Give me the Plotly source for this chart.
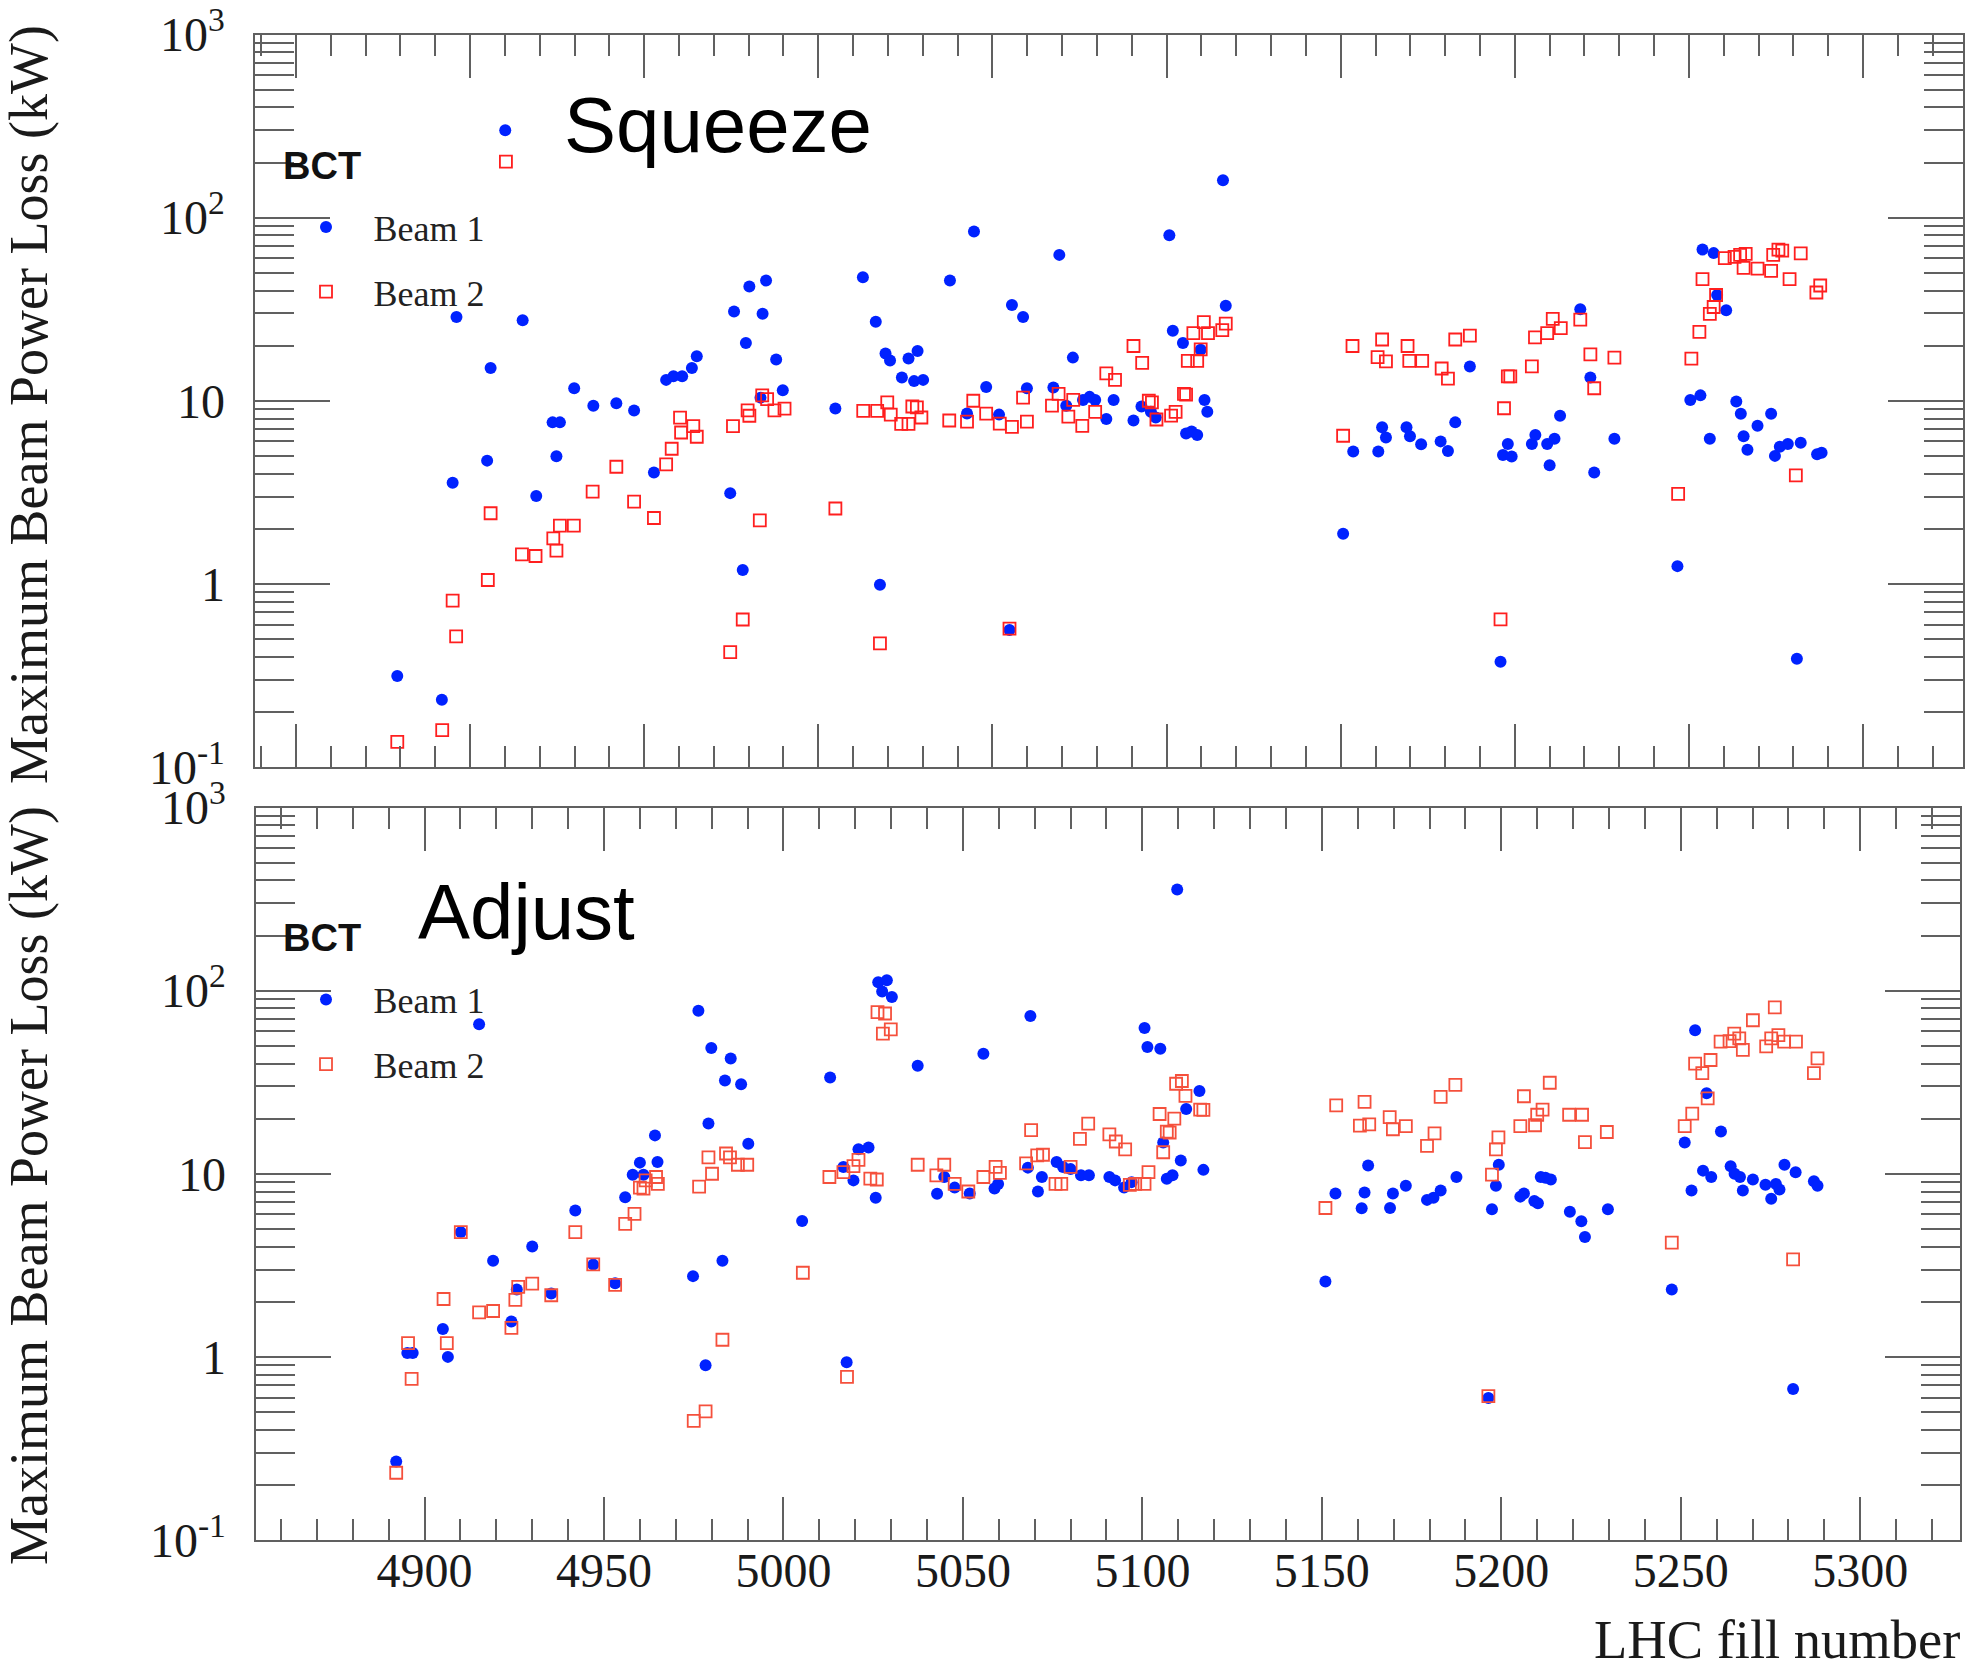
import plotly.graph_objects as go

# ---------------- data ----------------
# Top panel: "Squeeze"
squeeze_b1_fill = [4879.1, 4891.9, 4895.0, 4896.1, 4904.9, 4905.9, 4910.1, 4915.1, 4919.0, 4923.7,
                   4925.8, 4924.8, 4929.9, 4935.4, 4942.0, 4947.1, 4952.8, 4956.3, 4958.4, 4960.9,
                   4963.7, 4965.1, 4974.7, 4975.8, 4979.2, 4978.3, 4980.2, 4985.0, 4984.0, 4983.4,
                   4987.9, 4989.8,
                   5004.9, 5012.8, 5016.5, 5017.7, 5019.3, 5020.6, 5024.0, 5025.9, 5027.5, 5028.5,
                   5030.1, 5037.8, 5042.7, 5044.7, 5048.2, 5051.9, 5054.9, 5055.6, 5058.8, 5059.9,
                   5067.5, 5069.2, 5071.2, 5073.1, 5076.0, 5077.9, 5079.5, 5082.7, 5084.8, 5090.5,
                   5092.8, 5095.5, 5096.9, 5100.8, 5101.8, 5104.7, 5105.6, 5107.2, 5108.8, 5109.8,
                   5110.9, 5111.7, 5116.2, 5117.0, 5150.7, 5153.6, 5160.8, 5161.9, 5163.0,
                   5168.9, 5169.9, 5173.1, 5178.7, 5180.8, 5182.9, 5187.1, 5195.9, 5196.6, 5198.0,
                   5199.1, 5204.9, 5205.9, 5209.3, 5210.0, 5211.4, 5213.0, 5218.8, 5221.7, 5222.8,
                   5228.6, 5246.7, 5250.4, 5253.3, 5253.9, 5257.1, 5258.1, 5260.7, 5256.0, 5263.6,
                   5264.9, 5265.7, 5266.8, 5269.7, 5273.6, 5274.7, 5276.1, 5278.4, 5281.0, 5282.1,
                   5286.8, 5288.1]
squeeze_b1_loss = [0.314, 0.233, 3.57, 28.7, 4.71, 15.1, 300, 27.5, 3.02, 7.62,
                   7.62, 4.97, 11.7, 9.4, 9.68, 8.85, 4.06, 13.0, 13.6, 13.6,
                   15.1, 17.5, 3.13, 30.7, 20.7, 1.19, 42.1, 45.3, 29.9, 10.4,
                   16.8, 11.4,
                   9.06, 47.2, 27.0, 0.99, 18.1, 16.6, 13.4, 17.0, 12.8, 18.7,
                   13.0, 45.3, 8.53, 84.0, 11.9, 8.4, 0.56, 33.3, 28.7, 11.7,
                   11.8, 62.6, 9.4, 17.2, 10.1, 10.5, 10.1, 7.94, 10.1, 7.8,
                   9.3, 8.7, 8.1, 80.1, 24.1, 20.7, 6.63, 6.8, 6.5, 19.0,
                   10.1, 8.7, 160, 33.0, 1.88, 5.28, 5.28, 7.17, 6.3,
                   7.17, 6.4, 5.78, 6.0, 5.31, 7.62, 15.4, 0.376, 5.06, 5.8,
                   4.96, 5.8, 6.5, 5.8, 4.44, 6.2, 8.28, 31.6, 13.4, 4.06,
                   6.2, 1.25, 10.1, 10.7, 66.9, 64.0, 37.8, 31.2, 6.2, 9.9,
                   8.5, 6.4, 5.4, 7.3, 8.5, 5.0, 5.6, 5.8, 0.39, 5.9,
                   5.1, 5.2]

squeeze_b2_fill = [4879.1, 4892.0, 4895.0, 4896.0, 4905.1, 4905.9, 4910.3, 4914.9, 4918.8, 4923.9,
                   4924.8, 4925.8, 4929.8, 4935.2, 4942.0, 4947.1, 4952.8, 4956.3, 4957.9, 4960.3,
                   4960.6, 4964.1, 4965.1, 4974.7, 4975.5, 4978.3, 4979.7, 4980.2, 4983.2, 4983.9,
                   4985.3, 4987.4, 4990.3,
                   5004.9, 5012.9, 5016.9, 5017.7, 5019.8, 5020.8, 5023.8, 5025.9, 5027.0, 5028.3,
                   5029.6, 5037.6, 5042.7, 5044.5, 5048.2, 5052.1, 5054.9, 5055.6, 5058.8, 5059.9,
                   5067.1, 5069.0, 5071.8, 5073.2, 5075.8, 5079.5, 5082.7, 5085.2, 5090.5, 5093.0,
                   5094.9, 5095.8, 5097.1, 5101.3, 5102.6, 5105.0, 5105.6, 5106.1, 5107.7, 5108.8,
                   5109.8, 5110.7, 5111.9, 5116.0, 5117.0, 5150.7, 5153.4, 5160.6, 5161.9, 5163.0,
                   5169.2, 5169.7, 5173.4, 5179.0, 5180.8, 5182.9, 5187.1, 5195.9, 5196.9, 5198.0,
                   5198.7, 5204.9, 5205.8, 5209.3, 5210.9, 5213.2, 5218.8, 5221.7, 5222.8, 5228.6,
                   5246.9, 5250.7, 5253.0, 5253.9, 5256.0, 5257.1, 5257.8, 5260.3, 5263.1, 5264.7,
                   5266.3, 5265.7, 5269.7, 5273.6, 5274.2, 5275.7, 5276.8, 5278.9, 5280.7, 5282.1,
                   5286.6, 5287.7]
squeeze_b2_loss = [0.137, 0.159, 0.811, 0.517, 1.05, 2.43, 202, 1.45, 1.42, 1.77,
                   1.52, 2.08, 2.08, 3.19, 4.36, 2.81, 2.29, 4.49, 5.47, 8.09,
                   6.71, 7.26, 6.36, 0.424, 7.26, 0.639, 8.85, 8.28, 2.22, 10.7,
                   10.2, 8.85, 9.06,
                   2.58, 8.8, 8.8, 0.473, 9.8, 8.4, 7.48, 7.48, 9.3, 9.2,
                   8.1, 7.8, 7.7, 10.0, 8.5, 7.5, 0.57, 7.2, 10.4, 7.7,
                   9.4, 10.9, 8.2, 10.1, 7.3, 8.7, 14.1, 13.0, 19.9, 16.1,
                   10.0, 9.8, 7.9, 8.3, 8.7, 10.9, 10.8, 16.5, 23.4, 16.5,
                   19.1, 26.9, 23.4, 24.3, 26.4, 6.44, 19.9, 17.3, 21.6, 16.4,
                   19.9, 16.5, 16.5, 15.0, 13.2, 21.6, 22.7, 0.64, 9.1, 13.6,
                   13.6, 15.4, 22.2, 23.4, 28.0, 24.9, 27.7, 17.9, 11.7, 17.2,
                   3.1, 17.0, 23.8, 46.1, 29.8, 32.5, 37.8, 60.1, 61.0, 62.6,
                   63.4, 53.2, 52.6, 51.2, 62.6, 66.9, 66.0, 46.1, 3.91, 63.8,
                   39.0, 42.6]

# Bottom panel: "Adjust"
adjust_b1_fill = [4892.1, 4895.2, 4896.7, 4905.1, 4906.5, 4910.1, 4915.2, 4919.1, 4924.2, 4925.7,
                  4930.0, 4935.3, 4942.0, 4947.0, 4953.1, 4955.9, 4958.0, 4960.0, 4961.0, 4964.2,
                  4964.9, 4974.8, 4976.3, 4978.3, 4979.1, 4979.9, 4983.0, 4983.7, 4985.3, 4988.2,
                  4990.2, 5005.2,
                  5013.0, 5016.7, 5017.6, 5019.5, 5020.9, 5023.7, 5025.7, 5026.4, 5028.8, 5027.5,
                  5030.2, 5037.4, 5042.8, 5044.8, 5047.7, 5051.9, 5055.7, 5058.8, 5059.8, 5068.1,
                  5068.8, 5070.9, 5072.0, 5076.1, 5077.9, 5080.0, 5082.9, 5085.1, 5090.8, 5092.4,
                  5094.9, 5097.0, 5100.6, 5101.4, 5105.0, 5105.8, 5106.8, 5108.4, 5109.7, 5110.7,
                  5112.2, 5115.9, 5117.0, 5151.0, 5153.8, 5161.1, 5161.9, 5162.9, 5169.0, 5169.8,
                  5173.4, 5179.3, 5181.1, 5183.1, 5187.5, 5196.4, 5197.4, 5198.5, 5199.3, 5205.3,
                  5206.3, 5209.2, 5210.2, 5211.0, 5212.3, 5213.8, 5219.1, 5222.3, 5223.3, 5229.7,
                  5247.5, 5251.1, 5253.0, 5254.0, 5256.2, 5257.2, 5258.5, 5261.2, 5263.9, 5265.0,
                  5266.5, 5267.3, 5270.1, 5273.6, 5275.2, 5276.5, 5277.5, 5278.9, 5281.3, 5282.0,
                  5287.1, 5288.1]
adjust_b1_loss = [0.268, 1.05, 1.05, 1.42, 1.0, 4.8, 65.6, 3.35, 1.56, 2.33,
                  4.01, 2.22, 6.3, 3.19, 2.52, 7.45, 9.88, 11.5, 9.88, 16.2,
                  11.6, 2.76, 77.6, 0.90, 18.8, 48.6, 3.35, 32.3, 42.6, 30.8,
                  14.6, 5.52,
                  33.5, 10.9, 0.936, 9.2, 13.6, 13.9, 7.4, 111, 114, 98.8,
                  92.4, 38.9, 7.77, 9.6, 8.4, 7.8, 45.2, 8.3, 8.8, 10.8,
                  72.7, 8.0, 9.6, 11.6, 10.9, 10.6, 9.8, 9.8, 9.6, 9.2,
                  8.4, 9.0, 62.5, 49.2, 48.1, 14.8, 9.4, 9.8, 357, 11.8,
                  22.6, 28.3, 10.5, 2.58, 7.8, 6.48, 7.9, 11.1, 6.5, 7.8,
                  8.6, 7.2, 7.4, 8.1, 9.6, 0.596, 6.4, 8.6, 11.2, 7.5,
                  7.8, 7.1, 6.9, 9.6, 9.5, 9.3, 6.2, 5.5, 4.52, 6.4,
                  2.33, 14.8, 8.1, 60.7, 10.4, 27.5, 9.6, 17.0, 11.0, 10.0,
                  9.6, 8.1, 9.3, 8.7, 7.3, 8.8, 8.2, 11.2, 0.668, 10.2,
                  9.1, 8.6]

adjust_b2_fill = [4892.1, 4895.4, 4896.4, 4905.3, 4906.2, 4910.1, 4915.2, 4919.1, 4924.2, 4925.3,
                  4926.1, 4930.0, 4935.3, 4942.0, 4947.0, 4953.1, 4955.9, 4958.5, 4960.0, 4961.0,
                  4961.6, 4964.5, 4965.0, 4975.0, 4976.5, 4978.3, 4979.1, 4980.1, 4983.0, 4984.0,
                  4985.1, 4987.3, 4989.9, 5005.4,
                  5012.8, 5016.7, 5017.7, 5019.5, 5020.9, 5024.2, 5026.0, 5026.2, 5028.3, 5027.7,
                  5029.9, 5037.4, 5042.6, 5044.8, 5047.7, 5051.5, 5055.7, 5059.1, 5060.3, 5067.6,
                  5069.0, 5070.7, 5072.3, 5075.8, 5077.4, 5080.0, 5082.6, 5084.9, 5090.8, 5092.6,
                  5095.2, 5096.5, 5098.0, 5100.6, 5101.7, 5104.8, 5105.8, 5106.8, 5107.6, 5108.9,
                  5109.4, 5111.0, 5112.0, 5116.1, 5117.0, 5151.0, 5154.0, 5161.9, 5160.6, 5163.2,
                  5168.9, 5169.8,
                  5173.4, 5179.3, 5181.4, 5183.1, 5187.2, 5196.4, 5197.4, 5198.5, 5199.2, 5205.3,
                  5206.3, 5209.4, 5210.0, 5211.5, 5213.5, 5218.9, 5222.5, 5223.3, 5229.4, 5247.5,
                  5251.1, 5253.2, 5254.0, 5256.0, 5257.5, 5258.3, 5261.1, 5263.6, 5264.9, 5266.3,
                  5267.3, 5270.1, 5273.8, 5275.2, 5276.2, 5277.2, 5278.8, 5281.3, 5282.1, 5287.1,
                  5288.1]
adjust_b2_loss = [0.233, 1.19, 0.759, 2.07, 1.19, 4.8, 1.75, 1.78, 1.44, 2.05,
                  2.41, 2.51, 2.17, 4.8, 3.2, 2.47, 5.32, 6.04, 8.4, 8.3,
                  9.2, 9.6, 8.8, 0.447, 8.5, 0.504, 12.3, 10.0, 1.24, 12.9,
                  12.3, 11.2, 11.2, 2.88,
                  9.6, 10.2, 0.777, 11.0, 11.9, 9.4, 9.3, 76.3, 75.0, 58.2,
                  61.5, 11.2, 9.8, 11.2, 8.8, 8.0, 9.6, 10.9, 10.1, 11.4,
                  17.3, 12.6, 12.7, 8.8, 8.8, 10.9, 15.5, 18.8, 16.4, 15.0,
                  13.6, 8.7, 8.8, 8.8, 10.2, 21.2, 13.1, 17.0, 16.8, 20.0,
                  31.0, 32.1, 26.6, 22.4, 22.3, 6.5, 23.6, 24.7, 18.3, 18.6,
                  20.4, 17.5,
                  18.2, 14.2, 16.6, 26.3, 30.6, 0.61, 9.9, 13.6, 15.8, 18.2,
                  26.5, 18.4, 21.0, 22.4, 31.4, 21.0, 21.0, 14.9, 16.9, 4.21,
                  18.2, 21.3, 39.9, 35.4, 25.8, 41.8, 52.6, 53.0, 58.2, 54.9,
                  47.5, 68.9, 49.6, 54.9, 81.1, 57.1, 52.6, 3.41, 52.6, 35.4,
                  42.7]

panel_labels = ["Squeeze", "Adjust"]
series_names = ["Beam 1", "Beam 2"]
y_tickvals = [0.1, 1, 10, 100, 1000]
y_ticktext = ["10<sup>-1</sup>", "1", "10", "10<sup>2</sup>", "10<sup>3</sup>"]
x_major_step = 50
x_minor_step = 10

# ---------------- styling ----------------
W, H = 1967, 1670
SERIF = "Liberation Serif, Times New Roman, serif"
SANS = "Liberation Sans, Arial, Helvetica, sans-serif"
BLUE = "#0022ff"
RED_TOP = "#ff1f1f"
RED_BOT = "#f5503c"
AX = "#606060"


def px_x(p):
    return p / W


def px_y(p):
    return 1 - p / H


y_minor = [m * 10 ** e for e in range(-1, 3) for m in range(2, 10)]

fig = go.Figure()

fig.add_trace(go.Scatter(x=squeeze_b1_fill, y=squeeze_b1_loss, mode="markers", name=series_names[0],
                         marker=dict(symbol="circle", size=12, color=BLUE),
                         xaxis="x", yaxis="y", legend="legend", legendgroup="a1"))
fig.add_trace(go.Scatter(x=squeeze_b2_fill, y=squeeze_b2_loss, mode="markers", name=series_names[1],
                         marker=dict(symbol="square-open", size=12, color=RED_TOP,
                                     line=dict(width=1.8, color=RED_TOP)),
                         xaxis="x", yaxis="y", legend="legend", legendgroup="a2"))
fig.add_trace(go.Scatter(x=adjust_b1_fill, y=adjust_b1_loss, mode="markers", name=series_names[0],
                         marker=dict(symbol="circle", size=12, color=BLUE),
                         xaxis="x2", yaxis="y2", legend="legend2", legendgroup="b1"))
fig.add_trace(go.Scatter(x=adjust_b2_fill, y=adjust_b2_loss, mode="markers", name=series_names[1],
                         marker=dict(symbol="square-open", size=12, color=RED_BOT,
                                     line=dict(width=1.8, color=RED_BOT)),
                         xaxis="x2", yaxis="y2", legend="legend2", legendgroup="b2"))

common = dict(showline=True, linecolor=AX, linewidth=2, mirror="ticks", ticks="inside",
              tickcolor=AX, tickwidth=2, showgrid=False, zeroline=False,
              tickfont=dict(family=SERIF, size=48, color="#1a1a1a"))

xminor = dict(ticks="inside", dtick=x_minor_step, tick0=4850, ticklen=21, tickcolor=AX, tickwidth=2,
              showgrid=False)
yminor = dict(ticks="inside", tickmode="array", tickvals=y_minor, ticklen=39, tickcolor=AX, tickwidth=2,
              showgrid=False)

fig.update_layout(
    width=W, height=H, margin=dict(l=0, r=0, t=0, b=0, autoexpand=False),
    paper_bgcolor="white", plot_bgcolor="white",
    xaxis=dict(domain=[px_x(254.5), px_x(1963)], range=[4838.1, 5328.7], anchor="y",
               tick0=4850, dtick=x_major_step, ticklen=43, minor=xminor, showticklabels=False, **common),
    yaxis=dict(domain=[px_y(767), px_y(34.5)], type="log", range=[-1, 3], anchor="x",
               tickmode="array", tickvals=y_tickvals, ticktext=y_ticktext, ticklen=75,
               ticklabelstandoff=18, minor=yminor, **common),
    xaxis2=dict(domain=[px_x(255.5), px_x(1960)], range=[4852.9, 5327.8], anchor="y2",
                tick0=4850, dtick=x_major_step, ticklen=43, minor=xminor, ticklabelstandoff=-13, **common),
    yaxis2=dict(domain=[px_y(1540), px_y(807.5)], type="log", range=[-1, 3], anchor="x2",
                tickmode="array", tickvals=y_tickvals, ticktext=y_ticktext, ticklen=75,
                ticklabelstandoff=18, minor=yminor, **common),
    legend=dict(x=px_x(278.5), y=px_y(197), xanchor="left", yanchor="top",
                font=dict(family=SERIF, size=36, color="#222"), bgcolor="rgba(0,0,0,0)",
                tracegroupgap=15, itemwidth=85),
    legend2=dict(x=px_x(278.5), y=px_y(969.5), xanchor="left", yanchor="top",
                 font=dict(family=SERIF, size=36, color="#222"), bgcolor="rgba(0,0,0,0)",
                 tracegroupgap=15, itemwidth=85),
    showlegend=True,
)

ann = []
ytitle = "Maximum Beam Power Loss (kW)"
ann.append(dict(text=ytitle, textangle=-90, x=px_x(29), y=px_y(405), xref="paper", yref="paper",
                xanchor="center", yanchor="middle", showarrow=False,
                font=dict(family=SERIF, size=54, color="#1a1a1a")))
ann.append(dict(text=ytitle, textangle=-90, x=px_x(29), y=px_y(1186), xref="paper", yref="paper",
                xanchor="center", yanchor="middle", showarrow=False,
                font=dict(family=SERIF, size=54, color="#1a1a1a")))
ann.append(dict(text="LHC fill number", x=px_x(1962), y=px_y(1639), xref="paper", yref="paper",
                xanchor="right", yanchor="middle", showarrow=False,
                font=dict(family=SERIF, size=54.5, color="#1a1a1a")))
ann.append(dict(text=panel_labels[0], x=px_x(562), y=px_y(124.5), xref="paper", yref="paper",
                xanchor="left", yanchor="middle", showarrow=False,
                font=dict(family=SANS, size=78, color="black")))
ann.append(dict(text=panel_labels[1], x=px_x(416), y=px_y(912), xref="paper", yref="paper",
                xanchor="left", yanchor="middle", showarrow=False,
                font=dict(family=SANS, size=78, color="black")))
for yb in (165.5, 938):
    ann.append(dict(text="<b>BCT</b>", x=px_x(281), y=px_y(yb), xref="paper", yref="paper",
                    xanchor="left", yanchor="middle", showarrow=False,
                    font=dict(family=SANS, size=38, color="#111")))
fig.update_layout(annotations=ann)

fig.write_html("out.html")
